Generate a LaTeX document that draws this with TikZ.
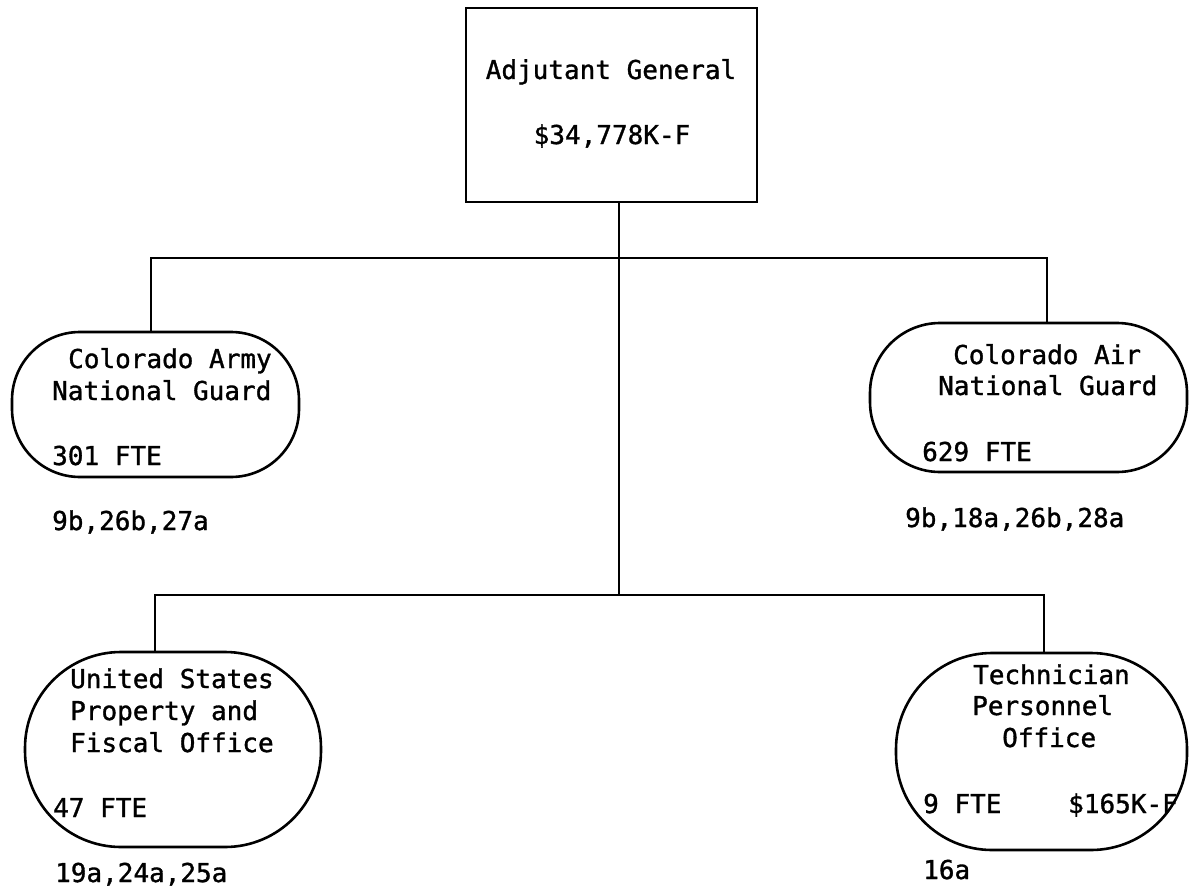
\documentclass[tikz,border=0pt]{standalone}
\usepackage{fontspec}
\setmonofont[FakeBold=1.2]{DejaVu Sans Mono}
\usetikzlibrary{positioning,calc}
\tikzset{
  office/.style={draw, line width=2.6pt, rounded corners=#1, inner sep=0pt},
  office/.default=70pt,
  link/.style={line width=2.6pt},
  txt/.style={anchor=base west, inner sep=0pt, font=\ttfamily\fontsize{26}{32}\selectfont},
}

\begin{document}
\begin{tikzpicture}[x=1pt, y=-1pt]
  \useasboundingbox (0,0) rectangle (1190,888);
  % head office
  \node[office=0pt, minimum width=291pt, minimum height=194pt] (ag) at (611.5,105) {};
  \node[txt, anchor=base] (agname) at (611,79) {Adjutant General};
  \node[txt, anchor=base] (agbudget) at (612,144) {\$34,778K-F};
  % first tier
  \node[office=68pt, minimum width=287pt, minimum height=145pt] (army) at (155.5,404.5) {};
  \node[txt] (army1) at (68,368) {Colorado Army};
  \node[txt] (army2) at (52,400) {National Guard};
  \node[txt] (army3) at (52,465) {301 FTE};
  \node[txt] (armyref) at (52,530) {9b,26b,27a};
  \node[office=70pt, minimum width=317pt, minimum height=149pt] (air) at (1028.5,397.5) {};
  \node[txt] (air1) at (953,364) {Colorado Air};
  \node[txt] (air2) at (938,395) {National Guard};
  \node[txt] (air3) at (922,461) {629 FTE};
  \node[txt] (airref) at (905,527) {9b,18a,26b,28a};
  % second tier
  \node[office=96pt, minimum width=296pt, minimum height=195pt] (usp) at (173,749.5) {};
  \node[txt] (usp1) at (70,688) {United States};
  \node[txt] (usp2) at (70,720) {Property and};
  \node[txt] (usp3) at (70,752) {Fiscal Office};
  \node[txt] (usp4) at (53,817) {47 FTE};
  \node[txt] (uspref) at (55,882) {19a,24a,25a};
  \node[office=96pt, minimum width=291pt, minimum height=197pt] (tpo) at (1041.5,751.5) {};
  \node[txt] (tpo1) at (973,684) {Technician};
  \node[txt] (tpo2) at (972,715) {Personnel};
  \node[txt] (tpo3) at (1002,747) {Office};
  \node[txt] (tpo4) at (923,813) {9 FTE};
  \node[txt] (tpo5) at (1068,813) {\$165K-F};
  \node[txt] (tporef) at (923,879) {16a};
  % connectors
  \coordinate (hubA) at (619,258);
  \coordinate (hubB) at (619,595);
  \coordinate (armyTop) at (151,258);
  \coordinate (airTop) at (1047,258);
  \coordinate (uspTop) at (155,595);
  \coordinate (tpoTop) at (1044,595);
  \draw[link] (hubA |- ag.south) -- (hubB);
  \draw[link] (armyTop |- army.north) -- (armyTop) -- (airTop) -- (airTop |- air.north);
  \draw[link] (uspTop |- usp.north) -- (uspTop) -- (tpoTop) -- (tpoTop |- tpo.north);
\end{tikzpicture}
\end{document}
